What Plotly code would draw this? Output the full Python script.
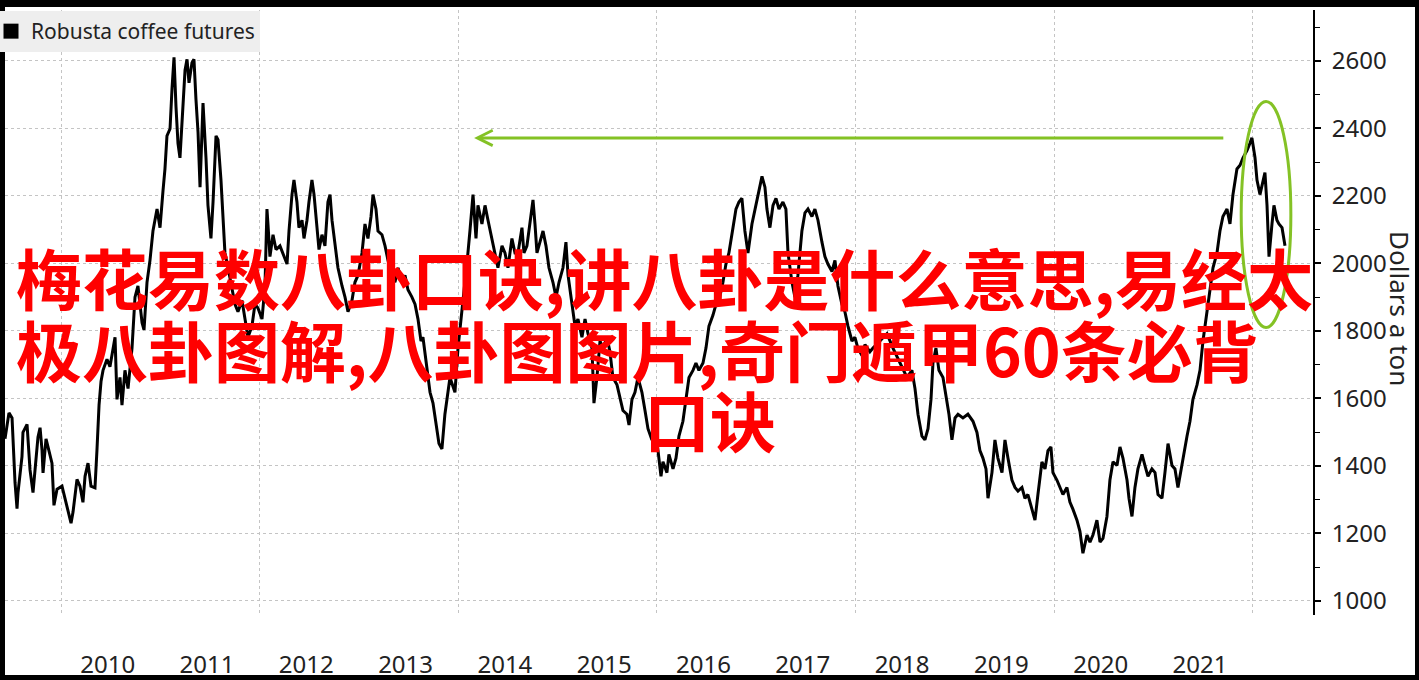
import plotly.graph_objects as go

# ---------------- data ----------------
years = [
    2009.436, 2009.456, 2009.476, 2009.507, 2009.517, 2009.537, 2009.557, 2009.567, 2009.607, 2009.617,
    2009.658, 2009.668, 2009.688, 2009.718, 2009.738, 2009.768, 2009.789, 2009.809, 2009.819, 2009.849,
    2009.869, 2009.909, 2009.929, 2009.960, 2010.010, 2010.040, 2010.070, 2010.101, 2010.121, 2010.161,
    2010.191, 2010.221, 2010.242, 2010.272, 2010.302, 2010.342, 2010.362, 2010.383, 2010.403, 2010.423,
    2010.463, 2010.493, 2010.544, 2010.564, 2010.594, 2010.614, 2010.644, 2010.675, 2010.715, 2010.745,
    2010.775, 2010.816, 2010.836, 2010.866, 2010.896, 2010.926, 2010.967, 2010.997, 2011.027, 2011.047,
    2011.067, 2011.098, 2011.118, 2011.138, 2011.158, 2011.178, 2011.198, 2011.229, 2011.249, 2011.269,
    2011.289, 2011.319, 2011.339, 2011.359, 2011.380, 2011.400, 2011.420, 2011.430, 2011.460, 2011.480,
    2011.510, 2011.531, 2011.561, 2011.581, 2011.611, 2011.631, 2011.651, 2011.682, 2011.722, 2011.752,
    2011.782, 2011.823, 2011.853, 2011.883, 2011.923, 2011.953, 2011.983, 2012.024, 2012.054, 2012.074,
    2012.084, 2012.104, 2012.135, 2012.165, 2012.205, 2012.235, 2012.276, 2012.296, 2012.326, 2012.346,
    2012.376, 2012.396, 2012.427, 2012.447, 2012.477, 2012.497, 2012.527, 2012.548, 2012.578, 2012.598,
    2012.628, 2012.658, 2012.688, 2012.709, 2012.729, 2012.759, 2012.789, 2012.830, 2012.860, 2012.890,
    2012.930, 2012.960, 2012.991, 2013.031, 2013.061, 2013.091, 2013.122, 2013.142, 2013.172, 2013.192,
    2013.232, 2013.263, 2013.293, 2013.333, 2013.363, 2013.394, 2013.434, 2013.464, 2013.494, 2013.534,
    2013.565, 2013.595, 2013.625, 2013.645, 2013.685, 2013.716, 2013.746, 2013.786, 2013.806, 2013.836,
    2013.866, 2013.917, 2013.967, 2013.998, 2014.038, 2014.068, 2014.098, 2014.118, 2014.139, 2014.149,
    2014.179, 2014.199, 2014.239, 2014.270, 2014.300, 2014.340, 2014.370, 2014.400, 2014.441, 2014.471,
    2014.501, 2014.541, 2014.572, 2014.602, 2014.642, 2014.662, 2014.692, 2014.723, 2014.753, 2014.773,
    2014.793, 2014.823, 2014.854, 2014.884, 2014.914, 2014.954, 2014.985, 2015.015, 2015.055, 2015.085,
    2015.106, 2015.146, 2015.176, 2015.206, 2015.246, 2015.277, 2015.307, 2015.347, 2015.367, 2015.397,
    2015.428, 2015.458, 2015.498, 2015.528, 2015.558, 2015.599, 2015.629, 2015.659, 2015.699, 2015.720,
    2015.750, 2015.780, 2015.810, 2015.850, 2015.881, 2015.911, 2015.951, 2015.981, 2016.012, 2016.042,
    2016.062, 2016.102, 2016.122, 2016.163, 2016.193, 2016.223, 2016.263, 2016.293, 2016.324, 2016.364,
    2016.394, 2016.424, 2016.465, 2016.495, 2016.525, 2016.565, 2016.596, 2016.626, 2016.666, 2016.696,
    2016.726, 2016.767, 2016.797, 2016.827, 2016.857, 2016.887, 2016.918, 2016.958, 2016.988, 2017.018,
    2017.059, 2017.089, 2017.109, 2017.139, 2017.170, 2017.200, 2017.230, 2017.270, 2017.300, 2017.321,
    2017.361, 2017.391, 2017.421, 2017.461, 2017.492, 2017.522, 2017.562, 2017.592, 2017.623, 2017.663,
    2017.693, 2017.723, 2017.764, 2017.794, 2017.824, 2017.864, 2017.894, 2017.925, 2017.965, 2017.995,
    2018.025, 2018.066, 2018.096, 2018.146, 2018.177, 2018.247, 2018.318, 2018.378, 2018.449, 2018.519,
    2018.569, 2018.600, 2018.630, 2018.670, 2018.700, 2018.731, 2018.761, 2018.781, 2018.811, 2018.841,
    2018.882, 2018.912, 2018.942, 2018.972, 2019.003, 2019.033, 2019.083, 2019.133, 2019.184, 2019.224,
    2019.254, 2019.284, 2019.315, 2019.335, 2019.375, 2019.405, 2019.435, 2019.476, 2019.506, 2019.536,
    2019.576, 2019.607, 2019.637, 2019.677, 2019.707, 2019.737, 2019.778, 2019.808, 2019.838, 2019.878,
    2019.909, 2019.939, 2019.969, 2019.989, 2020.029, 2020.060, 2020.090, 2020.130, 2020.160, 2020.191,
    2020.231, 2020.261, 2020.291, 2020.332, 2020.362, 2020.392, 2020.432, 2020.463, 2020.493, 2020.533,
    2020.563, 2020.594, 2020.634, 2020.664, 2020.694, 2020.735, 2020.755, 2020.785, 2020.815, 2020.845,
    2020.886, 2020.916, 2020.946, 2020.986, 2021.017, 2021.047, 2021.087, 2021.117, 2021.148, 2021.188,
    2021.218, 2021.248, 2021.279, 2021.299, 2021.339, 2021.369, 2021.399, 2021.440, 2021.470, 2021.500,
    2021.540, 2021.571, 2021.601, 2021.641, 2021.671, 2021.701, 2021.742, 2021.772, 2021.802, 2021.842,
    2021.873, 2021.903, 2021.943, 2021.973, 2021.993, 2022.024, 2022.044, 2022.074, 2022.104, 2022.124,
    2022.145, 2022.165, 2022.195, 2022.215, 2022.245, 2022.265, 2022.296, 2022.316, 2022.326,
]
prices = [
    1480, 1513, 1557, 1542, 1475, 1350, 1273, 1321, 1427, 1499,
    1523, 1475, 1388, 1321, 1379, 1485, 1513, 1446, 1379, 1480,
    1456, 1408, 1283, 1331, 1340, 1302, 1263, 1230, 1263, 1360,
    1340, 1292, 1369, 1408, 1340, 1335, 1446, 1580, 1650, 1683,
    1716, 1694, 1781, 1597, 1662, 1580, 1683, 1629, 1749, 1900,
    1933, 1824, 1803, 1944, 2009, 2096, 2161, 2106, 2215, 2280,
    2378, 2399, 2519, 2611, 2464, 2356, 2313, 2497, 2573, 2605,
    2535, 2595, 2605, 2486, 2388, 2226, 2443, 2475, 2313, 2172,
    2074, 2182, 2378, 2367, 2247, 2128, 2031, 1987, 1922, 1879,
    1857, 1890, 1835, 1781, 1814, 1879, 1868, 1835, 1933, 2161,
    2117, 2020, 2085, 2041, 2052, 2031, 1998, 2096, 2204, 2247,
    2182, 2106, 2128, 2074, 2128, 2182, 2247, 2204, 2096, 2041,
    2085, 2052, 2182, 2204, 2128, 2052, 1987, 1933, 1900, 1857,
    1890, 1944, 1965, 2031, 2117, 2074, 2139, 2204, 2161, 2096,
    2085, 2052, 2009, 1965, 1944, 1987, 1944, 1965, 1922, 1900,
    1879, 1835, 1770, 1781, 1694, 1618, 1586, 1499, 1466, 1450,
    1553, 1662, 1618, 1749, 1857, 1933, 2031, 2096, 2161, 2204,
    2074, 2172, 2117, 2172, 2128, 2074, 2031, 1987, 2052, 2031,
    1987, 2074, 2031, 2031, 2106, 2031, 2052, 2128, 2188, 2117,
    2031, 2063, 2096, 2052, 1987, 1944, 1900, 1944, 1987, 2063,
    1965, 1879, 1814, 1835, 1781, 1835, 1792, 1749, 1586, 1662,
    1770, 1749, 1781, 1738, 1662, 1640, 1597, 1564, 1553, 1521,
    1597, 1618, 1662, 1618, 1564, 1510, 1477, 1499, 1445, 1369,
    1412, 1380, 1434, 1391, 1423, 1488, 1532, 1597, 1662, 1683,
    1705, 1683, 1705, 1749, 1814, 1846, 1879, 1890, 1944, 1998,
    2031, 2106, 2161, 2182, 2193, 2096, 2031, 2117, 2161, 2204,
    2258, 2226, 2161, 2106, 2172, 2193, 2161, 2182, 2161, 2031,
    1944, 1900, 1965, 2096, 2150, 2161, 2139, 2161, 2128, 2063,
    2020, 1998, 1976, 2009, 1933, 1879, 1857, 1814, 1770, 1781,
    1749, 1727, 1759, 1738, 1749, 1770, 1792, 1749, 1705, 1662,
    1683, 1629, 1553, 1488, 1477, 1510, 1597, 1705, 1749, 1683,
    1662, 1607, 1553, 1477, 1542, 1553, 1542, 1553, 1532, 1499,
    1445, 1423, 1391, 1304, 1380, 1477, 1423, 1380, 1477, 1423,
    1358, 1336, 1325, 1336, 1304, 1315, 1271, 1239, 1315, 1412,
    1391, 1445, 1456, 1380, 1358, 1336, 1315, 1336, 1293, 1271,
    1239, 1206, 1141, 1195, 1174, 1195, 1239, 1174, 1185, 1250,
    1358, 1412, 1401, 1456, 1423, 1358, 1304, 1250, 1336, 1391,
    1434, 1401, 1369, 1391, 1380, 1315, 1304, 1380, 1466, 1401,
    1391, 1336, 1391, 1423, 1488, 1532, 1597, 1640, 1683, 1770,
    1857, 1922, 1987, 2031, 2096, 2139, 2161, 2117, 2204, 2280,
    2291, 2313, 2334, 2356, 2372, 2313, 2247, 2204, 2247, 2269,
    2172, 2020, 2117, 2172, 2128, 2117, 2106, 2063, 2052,
]

series_name = "Robusta coffee futures"
tick_years = list(range(2010, 2022))
tick_labels = [str(y) for y in tick_years]
grid_years = [2010, 2012, 2014, 2016, 2018, 2020, 2022]
y_ticks = [1000, 1200, 1400, 1600, 1800, 2000, 2200, 2400, 2600]
y_minor = [1100, 1300, 1500, 1700, 1900, 2100, 2300, 2500, 2700]
y_title = "Dollars a ton"
overlay_lines = [
    "梅花易数八卦口诀,讲八卦是什么意思,易经太",
    "极八卦图解,八卦图图片,奇门遁甲60条必背",
    "口诀",
]

# ---------------- layout geometry ----------------
W, H = 1419, 680
ML, MR, MT, MB = 5, 106, 10, 65
PW, PH = W - ML - MR, H - MT - MB


def px(xp):
    return (xp - ML) / PW


def py(yp):
    return (H - MB - yp) / PH


GREEN = "#84c225"
RED = "#ff0000"
TXT = "#222222"
GRID = "#c4c4c4"
FONT = "Noto Sans"
CJK = "Noto Sans CJK SC"

fig = go.Figure()
fig.add_trace(go.Scatter(
    x=years, y=prices, mode="lines",
    line=dict(color="black", width=3),
    showlegend=False, hoverinfo="skip",
))
fig.add_trace(go.Scatter(
    x=[None], y=[None], mode="markers", name=series_name,
    marker=dict(symbol="square", size=15, color="black"),
    showlegend=True,
))

fig.update_layout(
    width=W, height=H, autosize=False,
    margin=dict(l=ML, r=MR, t=MT, b=MB, pad=0, autoexpand=False),
    paper_bgcolor="black", plot_bgcolor="white",
    font=dict(family=FONT, color=TXT),
    legend=dict(
        x=px(-9), y=py(11), xanchor="left", yanchor="top",
        bgcolor="#eeeeee", borderwidth=0,
        font=dict(family=FONT, size=21, color=TXT),
        itemwidth=30, tracegroupgap=0,
    ),
    xaxis=dict(
        range=[2009.436, 2022.608],
        tickmode="array", tickvals=[y + 0.47 for y in tick_years], ticktext=tick_labels,
        showgrid=False, zeroline=False, showline=False, ticks="",
        ticklabelstandoff=33,
        tickfont=dict(family=FONT, size=24, color=TXT),
        minor=dict(tickmode="array", tickvals=grid_years, showgrid=True,
                   gridcolor=GRID, griddash="dot", gridwidth=1, ticks=""),
    ),
    yaxis=dict(
        side="right", range=[958, 2751],
        tickmode="array", tickvals=y_ticks,
        showgrid=True, gridcolor=GRID, griddash="dot", gridwidth=1,
        zeroline=False, showline=True, linecolor="black", linewidth=2,
        ticks="outside", ticklen=6, tickwidth=2, tickcolor="black",
        ticklabelstandoff=6,
        tickfont=dict(family=FONT, size=24, color=TXT),
        minor=dict(tickmode="array", tickvals=y_minor, ticks="outside",
                   ticklen=5, tickwidth=1, tickcolor="black", showgrid=False),
    ),
)

# white page inside the black frame
fig.add_shape(type="rect", xref="paper", yref="paper",
              x0=px(5), x1=px(W - 4), y0=py(H - 5), y1=py(7),
              fillcolor="white", line=dict(width=0), layer="below")

# y-axis title, reading top to bottom
fig.add_annotation(
    text=y_title, xref="paper", yref="paper", x=px(1400), y=py(308),
    xanchor="center", yanchor="middle", textangle=90, showarrow=False,
    font=dict(family=FONT, size=26, color=TXT),
)

# green arrow pointing back to the earlier level
fig.add_annotation(
    x=2014.16, y=2372, ax=2021.72, ay=2372, xref="x", yref="y", axref="x", ayref="y",
    text="", showarrow=True, arrowhead=5, arrowsize=1, arrowwidth=3,
    arrowcolor=GREEN, standoff=0, startstandoff=0,
)

# green ellipse around the latest peak
fig.add_shape(
    type="circle", xref="x", yref="y",
    x0=2021.885, x1=2022.385, y0=1810, y1=2480,
    line=dict(color=GREEN, width=3), layer="above",
)

# red overlay text
text_pos = [(14, 276), (14, 348), (642, 418)]
for line, (tx, ty) in zip(overlay_lines, text_pos):
    fig.add_annotation(text=line, xref="paper", yref="paper",
                       x=px(tx), y=py(ty), xanchor="left", yanchor="middle", showarrow=False,
                       font=dict(family=CJK, size=66, color=RED, weight="bold"))

fig.write_html(
    "out.html",
    config={"displayModeBar": False},
    post_script="document.body.style.margin='0px';document.documentElement.style.overflow='hidden';",
)
